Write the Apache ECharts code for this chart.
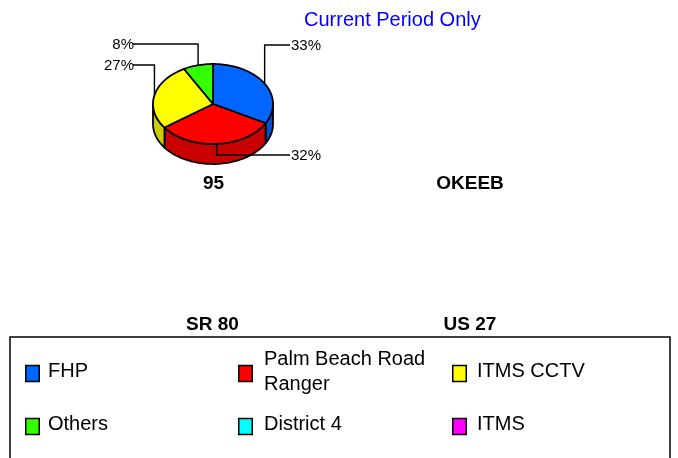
<!DOCTYPE html>
<html>
<head>
<meta charset="utf-8">
<script src="https://cdn.jsdelivr.net/npm/echarts@6/dist/echarts.min.js"></script>
<style>
  html, body { margin: 0; padding: 0; background: #ffffff; }
  #chart { width: 678px; height: 458px; }
</style>
</head>
<body>
<div id="chart"></div>
<script>
// Incident source shares, current period only
const categories = ['FHP', 'Palm Beach Road Ranger', 'ITMS CCTV', 'Others', 'District 4', 'ITMS'];
const values95 = [33, 32, 27, 8, 0, 0];
const siteNames = ['95', 'OKEEB', 'SR 80', 'US 27'];
const titleText = 'Current Period Only';

// Styling
const topColors  = ['#0066FF', '#FF0000', '#FFFF00', '#33FF00', '#00FFFF', '#FF00FF'];
const sideColors = ['#0050D0', '#C80000', '#CCCC00', '#29CC00', '#00CCCC', '#CC00CC'];
const FONT = '"Liberation Sans", Arial, Helvetica, sans-serif';

// Layout of the tilted pie (ellipse centre, radii, wall depth)
const pie = { cx: 213, cy: 104, rx: 60, ry: 40, depth: 20 };
// Vertical position of each slice's leader-line elbow / label
const labelRowY = [45, 155, 65, 44, 0, 0];
const siteLabelPos = [[213.5, 184], [470, 184], [212.5, 325], [470, 325]];

const total = values95.reduce((a, b) => a + b, 0);
const startOf = values95.map((v, i) => values95.slice(0, i).reduce((a, b) => a + b, 0));

// Slice i spans angles a0 (start) down to a1 (clockwise from 12 o'clock)
function sliceAngles(i, v) {
  const a0 = 90 - startOf[i] / total * 360;
  const a1 = a0 - v / total * 360;
  return [a0, a1];
}
function pt(deg, dy) {
  const r = deg * Math.PI / 180;
  return [pie.cx + pie.rx * Math.cos(r), pie.cy - pie.ry * Math.sin(r) + (dy || 0)];
}
function arc(a0, a1, dy) {
  const n = Math.max(2, Math.ceil(Math.abs(a0 - a1) / 2));
  const pts = [];
  for (let j = 0; j <= n; j++) pts.push(pt(a0 + (a1 - a0) * j / n, dy));
  return pts;
}

const pieData = values95.map((v, i) => ({ name: categories[i], value: [v] }));

function renderWall(params, api) {
  const i = params.dataIndex, v = api.value(0);
  if (!v) return null;
  const [a0, a1] = sliceAngles(i, v);
  const children = [];
  // the front half of the rim lies between -180 and 0 degrees (and its 360-degree shifts)
  [-360, 0, 360].forEach(k => {
    const hi = Math.min(a0, k), lo = Math.max(a1, k - 180);
    if (hi > lo) {
      children.push({
        type: 'polygon',
        shape: { points: arc(hi, lo, 0).concat(arc(lo, hi, pie.depth)) },
        style: { fill: sideColors[i], stroke: '#000', lineWidth: 1.8, lineJoin: 'round' }
      });
    }
  });
  return { type: 'group', children };
}

function renderTop(params, api) {
  const i = params.dataIndex, v = api.value(0);
  if (!v) return null;
  const [a0, a1] = sliceAngles(i, v);
  return {
    type: 'polygon',
    shape: { points: [[pie.cx, pie.cy]].concat(arc(a0, a1, 0)) },
    style: { fill: topColors[i], stroke: '#000', lineWidth: 1.8, lineJoin: 'round' }
  };
}

function renderLabel(params, api) {
  const i = params.dataIndex, v = api.value(0);
  if (!v) return null;
  const [a0, a1] = sliceAngles(i, v);
  const anchor = pt((a0 + a1) / 2, 0);
  const right = anchor[0] >= pie.cx;
  const elbowY = labelRowY[i];
  const endX = right ? pie.cx + 77 : pie.cx - 80;
  return {
    type: 'group',
    children: [
      {
        type: 'polyline',
        shape: { points: [anchor, [anchor[0], elbowY], [endX, elbowY]] },
        style: { stroke: '#000', lineWidth: 1.4, fill: null }
      },
      {
        type: 'text',
        x: endX + 1,
        y: elbowY + 0.5,
        style: {
          text: Math.round(v / total * 100) + '%',
          fill: '#000', fontSize: 15, fontFamily: FONT,
          align: right ? 'left' : 'right', verticalAlign: 'middle'
        }
      }
    ]
  };
}

// Legend: boxed, three columns
const legendBox = { x: 10, y: 337, w: 660, h: 140 };
const legendColX = [25, 238, 452];
const legendTextX = [48, 264, 477];
const legendRowY = [373.5, 426.5];
const legendGraphics = [{
  type: 'rect',
  shape: { x: legendBox.x, y: legendBox.y, width: legendBox.w, height: legendBox.h },
  style: { fill: '#fff', stroke: '#000', lineWidth: 1.5 }
}];
categories.forEach((name, i) => {
  const col = i % 3, cy = legendRowY[Math.floor(i / 3)];
  legendGraphics.push({
    type: 'rect',
    shape: { x: legendColX[col] + 0.75, y: cy - 8, width: 13.5, height: 16 },
    style: { fill: topColors[i], stroke: '#000', lineWidth: 1.5 }
  });
  legendGraphics.push({
    type: 'text',
    x: legendTextX[col], y: cy - 2,
    style: {
      text: name, fill: '#000', fontSize: 20, fontFamily: FONT,
      width: 180, overflow: 'break', lineHeight: 25,
      align: 'left', verticalAlign: 'middle'
    }
  });
});

const siteGraphics = siteNames.map((s, i) => ({
  type: 'text',
  x: siteLabelPos[i][0], y: siteLabelPos[i][1],
  style: {
    text: s, fill: '#000', fontSize: 19, fontWeight: 'bold', fontFamily: FONT,
    align: 'center', verticalAlign: 'middle'
  }
}));

const chart = echarts.init(document.getElementById('chart'), null, { renderer: 'canvas' });
chart.setOption({
  animation: false,
  backgroundColor: '#ffffff',
  graphic: [
    {
      type: 'text', x: 304, y: 20,
      style: {
        text: titleText, fill: '#0000FF', fontSize: 20, fontFamily: FONT,
        align: 'left', verticalAlign: 'middle'
      }
    }
  ].concat(siteGraphics, legendGraphics),
  series: [
    { type: 'custom', name: 'walls', coordinateSystem: 'none', renderItem: renderWall, data: pieData, z: 1, silent: true },
    { type: 'custom', name: 'tops', coordinateSystem: 'none', renderItem: renderTop, data: pieData, z: 2, silent: true },
    { type: 'custom', name: 'labels', coordinateSystem: 'none', renderItem: renderLabel, data: pieData, z: 3, silent: true }
  ]
});
</script>
</body>
</html>
